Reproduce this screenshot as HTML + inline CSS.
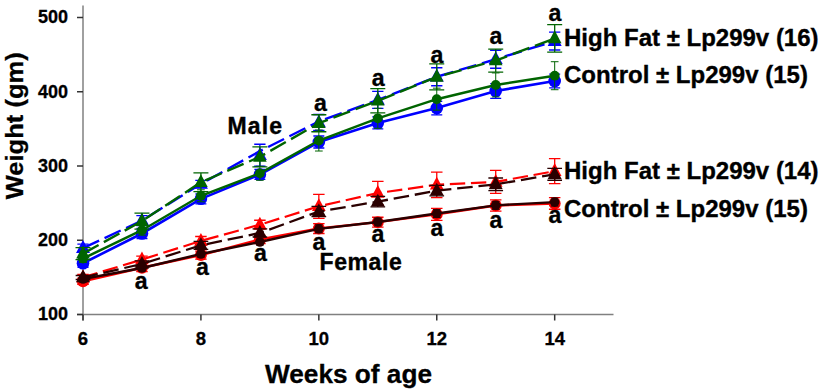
<!DOCTYPE html><html><head><meta charset="utf-8"><style>html,body{margin:0;padding:0;background:#fff;width:819px;height:391px;overflow:hidden}svg{display:block}text{font-family:"Liberation Sans",sans-serif;font-weight:bold;fill:#000}</style></head><body>
<svg width="819" height="391" viewBox="0 0 819 391">
<line x1="83" y1="5.5" x2="83" y2="320.5" stroke="#808080" stroke-width="1.5"/>
<line x1="77" y1="314.5" x2="613.5" y2="314.5" stroke="#808080" stroke-width="1.5"/>
<line x1="77" y1="314.50" x2="83" y2="314.50" stroke="#333" stroke-width="1.5"/>
<text x="68" y="320.40" font-size="18" text-anchor="end" stroke="#000" stroke-width="0.3">100</text>
<line x1="77" y1="240.25" x2="83" y2="240.25" stroke="#333" stroke-width="1.5"/>
<text x="68" y="246.15" font-size="18" text-anchor="end" stroke="#000" stroke-width="0.3">200</text>
<line x1="77" y1="166.00" x2="83" y2="166.00" stroke="#333" stroke-width="1.5"/>
<text x="68" y="171.90" font-size="18" text-anchor="end" stroke="#000" stroke-width="0.3">300</text>
<line x1="77" y1="91.75" x2="83" y2="91.75" stroke="#333" stroke-width="1.5"/>
<text x="68" y="97.65" font-size="18" text-anchor="end" stroke="#000" stroke-width="0.3">400</text>
<line x1="77" y1="17.50" x2="83" y2="17.50" stroke="#333" stroke-width="1.5"/>
<text x="68" y="23.40" font-size="18" text-anchor="end" stroke="#000" stroke-width="0.3">500</text>
<line x1="83.00" y1="314.5" x2="83.00" y2="320.5" stroke="#333" stroke-width="1.5"/>
<text x="83.00" y="345.2" font-size="18.5" text-anchor="middle" stroke="#000" stroke-width="0.3">6</text>
<line x1="200.92" y1="314.5" x2="200.92" y2="320.5" stroke="#333" stroke-width="1.5"/>
<text x="200.92" y="345.2" font-size="18.5" text-anchor="middle" stroke="#000" stroke-width="0.3">8</text>
<line x1="318.84" y1="314.5" x2="318.84" y2="320.5" stroke="#333" stroke-width="1.5"/>
<text x="318.84" y="345.2" font-size="18.5" text-anchor="middle" stroke="#000" stroke-width="0.3">10</text>
<line x1="436.76" y1="314.5" x2="436.76" y2="320.5" stroke="#333" stroke-width="1.5"/>
<text x="436.76" y="345.2" font-size="18.5" text-anchor="middle" stroke="#000" stroke-width="0.3">12</text>
<line x1="554.68" y1="314.5" x2="554.68" y2="320.5" stroke="#333" stroke-width="1.5"/>
<text x="554.68" y="345.2" font-size="18.5" text-anchor="middle" stroke="#000" stroke-width="0.3">14</text>
<text x="265" y="383" font-size="26" textLength="167" lengthAdjust="spacingAndGlyphs" stroke="#000" stroke-width="0.3">Weeks of age</text>
<text transform="translate(22.5,199.3) rotate(-90)" x="0" y="0" font-size="24.8" textLength="147" lengthAdjust="spacingAndGlyphs" stroke="#000" stroke-width="0.3">Weight (gm)</text>
<polyline points="83.00,281.24 141.96,267.72 200.92,255.10 259.88,239.51 318.84,228.59 377.80,222.13 436.76,214.34 495.72,205.50 554.68,203.42" fill="none" stroke="#ff0000" stroke-width="2.5"/>
<path d="M83.00 278.24V284.24M77.25 278.24H88.75M77.25 284.24H88.75" stroke="#ff0000" stroke-width="1.3" fill="none"/>
<path d="M141.96 263.72V271.72M136.21 263.72H147.71M136.21 271.72H147.71" stroke="#ff0000" stroke-width="1.3" fill="none"/>
<path d="M200.92 251.10V259.10M195.17 251.10H206.67M195.17 259.10H206.67" stroke="#ff0000" stroke-width="1.3" fill="none"/>
<path d="M259.88 235.51V243.51M254.13 235.51H265.63M254.13 243.51H265.63" stroke="#ff0000" stroke-width="1.3" fill="none"/>
<path d="M318.84 223.69V233.49M313.09 223.69H324.59M313.09 233.49H324.59" stroke="#ff0000" stroke-width="1.3" fill="none"/>
<path d="M377.80 217.23V227.03M372.05 217.23H383.55M372.05 227.03H383.55" stroke="#ff0000" stroke-width="1.3" fill="none"/>
<path d="M436.76 208.39V220.29M431.01 208.39H442.51M431.01 220.29H442.51" stroke="#ff0000" stroke-width="1.3" fill="none"/>
<path d="M495.72 199.90V211.10M489.97 199.90H501.47M489.97 211.10H501.47" stroke="#ff0000" stroke-width="1.3" fill="none"/>
<path d="M554.68 197.57V209.27M548.93 197.57H560.43M548.93 209.27H560.43" stroke="#ff0000" stroke-width="1.3" fill="none"/>
<circle cx="83.00" cy="281.24" r="6.0" fill="#ff0000"/>
<circle cx="141.96" cy="267.72" r="6.0" fill="#ff0000"/>
<circle cx="200.92" cy="255.10" r="6.0" fill="#ff0000"/>
<circle cx="259.88" cy="239.51" r="6.0" fill="#ff0000"/>
<circle cx="318.84" cy="228.59" r="6.0" fill="#ff0000"/>
<circle cx="377.80" cy="222.13" r="6.0" fill="#ff0000"/>
<circle cx="436.76" cy="214.34" r="6.0" fill="#ff0000"/>
<circle cx="495.72" cy="205.50" r="6.0" fill="#ff0000"/>
<circle cx="554.68" cy="203.42" r="6.0" fill="#ff0000"/>
<line x1="83.00" y1="277.38" x2="141.96" y2="259.56" stroke="#ff0000" stroke-width="2.2" stroke-dasharray="15.4 5.7" stroke-dashoffset="0.40"/>
<line x1="141.96" y1="259.56" x2="200.92" y2="240.92" stroke="#ff0000" stroke-width="2.2" stroke-dasharray="15.4 5.7" stroke-dashoffset="61.99"/>
<line x1="200.92" y1="240.92" x2="259.88" y2="224.66" stroke="#ff0000" stroke-width="2.2" stroke-dasharray="15.4 5.7" stroke-dashoffset="123.83"/>
<line x1="259.88" y1="224.66" x2="318.84" y2="206.32" stroke="#ff0000" stroke-width="2.2" stroke-dasharray="15.4 5.7" stroke-dashoffset="184.99"/>
<line x1="318.84" y1="206.32" x2="377.80" y2="193.03" stroke="#ff0000" stroke-width="2.2" stroke-dasharray="15.4 5.7" stroke-dashoffset="246.74"/>
<line x1="377.80" y1="193.03" x2="436.76" y2="184.79" stroke="#ff0000" stroke-width="2.2" stroke-dasharray="15.4 5.7" stroke-dashoffset="307.18"/>
<line x1="436.76" y1="184.79" x2="495.72" y2="181.89" stroke="#ff0000" stroke-width="2.2" stroke-dasharray="15.4 5.7" stroke-dashoffset="366.71"/>
<line x1="495.72" y1="181.89" x2="554.68" y2="171.12" stroke="#ff0000" stroke-width="2.2" stroke-dasharray="15.4 5.7" stroke-dashoffset="425.74"/>
<path d="M83.00 274.38V280.38M77.25 274.38H88.75M77.25 280.38H88.75" stroke="#ff0000" stroke-width="1.3" fill="none"/>
<path d="M141.96 256.16V262.95M136.21 256.16H147.71M136.21 262.95H147.71" stroke="#ff0000" stroke-width="1.3" fill="none"/>
<path d="M200.92 236.52V245.32M195.17 236.52H206.67M195.17 245.32H206.67" stroke="#ff0000" stroke-width="1.3" fill="none"/>
<path d="M259.88 220.26V229.06M254.13 220.26H265.63M254.13 229.06H265.63" stroke="#ff0000" stroke-width="1.3" fill="none"/>
<path d="M318.84 194.32V218.32M313.09 194.32H324.59M313.09 218.32H324.59" stroke="#ff0000" stroke-width="1.3" fill="none"/>
<path d="M377.80 181.33V204.73M372.05 181.33H383.55M372.05 204.73H383.55" stroke="#ff0000" stroke-width="1.3" fill="none"/>
<path d="M436.76 172.04V197.54M431.01 172.04H442.51M431.01 197.54H442.51" stroke="#ff0000" stroke-width="1.3" fill="none"/>
<path d="M495.72 170.39V193.39M489.97 170.39H501.47M489.97 193.39H501.47" stroke="#ff0000" stroke-width="1.3" fill="none"/>
<path d="M554.68 158.57V183.67M548.93 158.57H560.43M548.93 183.67H560.43" stroke="#ff0000" stroke-width="1.3" fill="none"/>
<path d="M83.00 269.38L89.80 282.18H76.20Z" fill="#ff0000"/>
<path d="M141.96 251.56L148.76 264.36H135.16Z" fill="#ff0000"/>
<path d="M200.92 232.92L207.72 245.72H194.12Z" fill="#ff0000"/>
<path d="M259.88 216.66L266.68 229.46H253.08Z" fill="#ff0000"/>
<path d="M318.84 198.32L325.64 211.12H312.04Z" fill="#ff0000"/>
<path d="M377.80 185.03L384.60 197.83H371.00Z" fill="#ff0000"/>
<path d="M436.76 176.79L443.56 189.59H429.96Z" fill="#ff0000"/>
<path d="M495.72 173.89L502.52 186.69H488.92Z" fill="#ff0000"/>
<path d="M554.68 163.12L561.48 175.92H547.88Z" fill="#ff0000"/>
<polyline points="83.00,279.01 141.96,268.02 200.92,253.99 259.88,242.03 318.84,228.82 377.80,221.98 436.76,213.52 495.72,205.35 554.68,202.09" fill="none" stroke="#2a0000" stroke-width="2.4"/>
<path d="M83.00 276.01V282.01M79.15 276.01H86.85M79.15 282.01H86.85" stroke="#2a0000" stroke-width="1.0" fill="none"/>
<path d="M141.96 265.02V271.02M138.11 265.02H145.81M138.11 271.02H145.81" stroke="#2a0000" stroke-width="1.0" fill="none"/>
<path d="M200.92 250.99V256.99M197.07 250.99H204.77M197.07 256.99H204.77" stroke="#2a0000" stroke-width="1.0" fill="none"/>
<path d="M259.88 239.03V245.03M256.03 239.03H263.73M256.03 245.03H263.73" stroke="#2a0000" stroke-width="1.0" fill="none"/>
<path d="M318.84 224.82V232.82M314.99 224.82H322.69M314.99 232.82H322.69" stroke="#2a0000" stroke-width="1.0" fill="none"/>
<path d="M377.80 217.98V225.98M373.95 217.98H381.65M373.95 225.98H381.65" stroke="#2a0000" stroke-width="1.0" fill="none"/>
<path d="M436.76 209.52V217.52M432.91 209.52H440.61M432.91 217.52H440.61" stroke="#2a0000" stroke-width="1.0" fill="none"/>
<path d="M495.72 201.35V209.35M491.87 201.35H499.57M491.87 209.35H499.57" stroke="#2a0000" stroke-width="1.0" fill="none"/>
<path d="M554.68 198.09V206.09M550.83 198.09H558.53M550.83 206.09H558.53" stroke="#2a0000" stroke-width="1.0" fill="none"/>
<circle cx="83.00" cy="279.01" r="4.8" fill="#2a0000"/>
<circle cx="141.96" cy="268.02" r="4.8" fill="#2a0000"/>
<circle cx="200.92" cy="253.99" r="4.8" fill="#2a0000"/>
<circle cx="259.88" cy="242.03" r="4.8" fill="#2a0000"/>
<circle cx="318.84" cy="228.82" r="4.8" fill="#2a0000"/>
<circle cx="377.80" cy="221.98" r="4.8" fill="#2a0000"/>
<circle cx="436.76" cy="213.52" r="4.8" fill="#2a0000"/>
<circle cx="495.72" cy="205.35" r="4.8" fill="#2a0000"/>
<circle cx="554.68" cy="202.09" r="4.8" fill="#2a0000"/>
<line x1="83.00" y1="277.52" x2="141.96" y2="263.94" stroke="#2a0000" stroke-width="2.3" stroke-dasharray="15.6 5.85" stroke-dashoffset="0.50"/>
<line x1="141.96" y1="263.94" x2="200.92" y2="245.30" stroke="#2a0000" stroke-width="2.3" stroke-dasharray="15.6 5.85" stroke-dashoffset="61.01"/>
<line x1="200.92" y1="245.30" x2="259.88" y2="232.97" stroke="#2a0000" stroke-width="2.3" stroke-dasharray="15.6 5.85" stroke-dashoffset="122.84"/>
<line x1="259.88" y1="232.97" x2="318.84" y2="211.52" stroke="#2a0000" stroke-width="2.3" stroke-dasharray="15.6 5.85" stroke-dashoffset="183.08"/>
<line x1="318.84" y1="211.52" x2="377.80" y2="201.64" stroke="#2a0000" stroke-width="2.3" stroke-dasharray="15.6 5.85" stroke-dashoffset="245.82"/>
<line x1="377.80" y1="201.64" x2="436.76" y2="190.65" stroke="#2a0000" stroke-width="2.3" stroke-dasharray="15.6 5.85" stroke-dashoffset="305.60"/>
<line x1="436.76" y1="190.65" x2="495.72" y2="184.34" stroke="#2a0000" stroke-width="2.3" stroke-dasharray="15.6 5.85" stroke-dashoffset="365.58"/>
<line x1="495.72" y1="184.34" x2="554.68" y2="174.32" stroke="#2a0000" stroke-width="2.3" stroke-dasharray="15.6 5.85" stroke-dashoffset="424.87"/>
<path d="M83.00 275.52V279.52M75.65 275.52H90.35M75.65 279.52H90.35" stroke="#2a0000" stroke-width="1.3" fill="none"/>
<path d="M141.96 260.94V266.94M134.61 260.94H149.31M134.61 266.94H149.31" stroke="#2a0000" stroke-width="1.3" fill="none"/>
<path d="M200.92 241.30V249.30M193.57 241.30H208.27M193.57 249.30H208.27" stroke="#2a0000" stroke-width="1.3" fill="none"/>
<path d="M259.88 228.97V236.97M252.53 228.97H267.23M252.53 236.97H267.23" stroke="#2a0000" stroke-width="1.3" fill="none"/>
<path d="M318.84 206.42V216.62M311.49 206.42H326.19M311.49 216.62H326.19" stroke="#2a0000" stroke-width="1.3" fill="none"/>
<path d="M377.80 196.44V206.84M370.45 196.44H385.15M370.45 206.84H385.15" stroke="#2a0000" stroke-width="1.3" fill="none"/>
<path d="M436.76 185.35V195.95M429.41 185.35H444.11M429.41 195.95H444.11" stroke="#2a0000" stroke-width="1.3" fill="none"/>
<path d="M495.72 177.99V190.69M488.37 177.99H503.07M488.37 190.69H503.07" stroke="#2a0000" stroke-width="1.3" fill="none"/>
<path d="M554.68 168.37V180.27M547.33 168.37H562.03M547.33 180.27H562.03" stroke="#2a0000" stroke-width="1.3" fill="none"/>
<path d="M83.00 269.52L90.00 282.32H76.00Z" fill="#2a0000"/>
<path d="M141.96 255.94L148.96 268.74H134.96Z" fill="#2a0000"/>
<path d="M200.92 237.30L207.92 250.10H193.92Z" fill="#2a0000"/>
<path d="M259.88 224.97L266.88 237.77H252.88Z" fill="#2a0000"/>
<path d="M318.84 203.52L325.84 216.32H311.84Z" fill="#2a0000"/>
<path d="M377.80 193.64L384.80 206.44H370.80Z" fill="#2a0000"/>
<path d="M436.76 182.65L443.76 195.45H429.76Z" fill="#2a0000"/>
<path d="M495.72 176.34L502.72 189.14H488.72Z" fill="#2a0000"/>
<path d="M554.68 166.32L561.68 179.12H547.68Z" fill="#2a0000"/>
<polyline points="83.00,263.27 141.96,233.49 200.92,198.82 259.88,174.46 318.84,142.02 377.80,122.93 436.76,108.08 495.72,91.01 554.68,80.98" fill="none" stroke="#0000ff" stroke-width="2.6"/>
<path d="M83.00 259.27V267.27M77.50 259.27H88.50M77.50 267.27H88.50" stroke="#0000ff" stroke-width="1.3" fill="none"/>
<path d="M141.96 228.49V238.49M136.46 228.49H147.46M136.46 238.49H147.46" stroke="#0000ff" stroke-width="1.3" fill="none"/>
<path d="M200.92 193.82V203.82M195.42 193.82H206.42M195.42 203.82H206.42" stroke="#0000ff" stroke-width="1.3" fill="none"/>
<path d="M259.88 169.46V179.46M254.38 169.46H265.38M254.38 179.46H265.38" stroke="#0000ff" stroke-width="1.3" fill="none"/>
<path d="M318.84 136.02V148.02M313.34 136.02H324.34M313.34 148.02H324.34" stroke="#0000ff" stroke-width="1.3" fill="none"/>
<path d="M377.80 116.93V128.93M372.30 116.93H383.30M372.30 128.93H383.30" stroke="#0000ff" stroke-width="1.3" fill="none"/>
<path d="M436.76 101.38V114.78M431.26 101.38H442.26M431.26 114.78H442.26" stroke="#0000ff" stroke-width="1.3" fill="none"/>
<path d="M495.72 83.61V98.41M490.22 83.61H501.22M490.22 98.41H501.22" stroke="#0000ff" stroke-width="1.3" fill="none"/>
<path d="M554.68 74.08V87.88M549.18 74.08H560.18M549.18 87.88H560.18" stroke="#0000ff" stroke-width="1.3" fill="none"/>
<circle cx="83.00" cy="263.27" r="6.3" fill="#0000ff"/>
<circle cx="141.96" cy="233.49" r="6.3" fill="#0000ff"/>
<circle cx="200.92" cy="198.82" r="6.3" fill="#0000ff"/>
<circle cx="259.88" cy="174.46" r="6.3" fill="#0000ff"/>
<circle cx="318.84" cy="142.02" r="6.3" fill="#0000ff"/>
<circle cx="377.80" cy="122.93" r="6.3" fill="#0000ff"/>
<circle cx="436.76" cy="108.08" r="6.3" fill="#0000ff"/>
<circle cx="495.72" cy="91.01" r="6.3" fill="#0000ff"/>
<circle cx="554.68" cy="80.98" r="6.3" fill="#0000ff"/>
<line x1="83.00" y1="248.12" x2="141.96" y2="220.57" stroke="#0000ff" stroke-width="2.4" stroke-dasharray="17.8 6" stroke-dashoffset="0.00"/>
<line x1="141.96" y1="220.57" x2="200.92" y2="183.89" stroke="#0000ff" stroke-width="2.4" stroke-dasharray="17.8 6" stroke-dashoffset="65.08"/>
<line x1="200.92" y1="183.89" x2="259.88" y2="151.15" stroke="#0000ff" stroke-width="2.4" stroke-dasharray="17.8 6" stroke-dashoffset="136.02"/>
<line x1="259.88" y1="151.15" x2="318.84" y2="121.45" stroke="#0000ff" stroke-width="2.4" stroke-dasharray="17.8 6" stroke-dashoffset="204.96"/>
<line x1="318.84" y1="121.45" x2="377.80" y2="99.92" stroke="#0000ff" stroke-width="2.4" stroke-dasharray="17.8 6" stroke-dashoffset="278.98"/>
<line x1="377.80" y1="99.92" x2="436.76" y2="76.75" stroke="#0000ff" stroke-width="2.4" stroke-dasharray="17.8 6" stroke-dashoffset="341.75"/>
<line x1="436.76" y1="76.75" x2="495.72" y2="59.23" stroke="#0000ff" stroke-width="2.4" stroke-dasharray="17.8 6" stroke-dashoffset="405.09"/>
<line x1="495.72" y1="59.23" x2="554.68" y2="41.11" stroke="#0000ff" stroke-width="2.4" stroke-dasharray="17.8 6" stroke-dashoffset="466.60"/>
<path d="M83.00 244.12V252.12M77.35 244.12H88.65M77.35 252.12H88.65" stroke="#0000ff" stroke-width="1.3" fill="none"/>
<path d="M141.96 215.57V225.57M136.31 215.57H147.61M136.31 225.57H147.61" stroke="#0000ff" stroke-width="1.3" fill="none"/>
<path d="M200.92 180.29V187.49M195.27 180.29H206.57M195.27 187.49H206.57" stroke="#0000ff" stroke-width="1.3" fill="none"/>
<path d="M259.88 144.23V166.23M254.23 144.23H265.53M254.23 166.23H265.53" stroke="#0000ff" stroke-width="1.3" fill="none"/>
<path d="M318.84 114.49V130.49M313.19 114.49H324.49M313.19 130.49H324.49" stroke="#0000ff" stroke-width="1.3" fill="none"/>
<path d="M377.80 91.42V108.42M372.15 91.42H383.45M372.15 108.42H383.45" stroke="#0000ff" stroke-width="1.3" fill="none"/>
<path d="M436.76 67.75V85.75M431.11 67.75H442.41M431.11 85.75H442.41" stroke="#0000ff" stroke-width="1.3" fill="none"/>
<path d="M495.72 50.23V68.23M490.07 50.23H501.37M490.07 68.23H501.37" stroke="#0000ff" stroke-width="1.3" fill="none"/>
<path d="M554.68 32.21V50.01M549.03 32.21H560.33M549.03 50.01H560.33" stroke="#0000ff" stroke-width="1.3" fill="none"/>
<path d="M83.00 240.12L90.00 252.92H76.00Z" fill="#0000ff"/>
<path d="M141.96 212.57L148.96 225.37H134.96Z" fill="#0000ff"/>
<path d="M200.92 175.89L207.92 188.69H193.92Z" fill="#0000ff"/>
<path d="M259.88 147.23L266.88 160.03H252.88Z" fill="#0000ff"/>
<path d="M318.84 114.49L325.84 127.29H311.84Z" fill="#0000ff"/>
<path d="M377.80 91.92L384.80 104.72H370.80Z" fill="#0000ff"/>
<path d="M436.76 68.75L443.76 81.55H429.76Z" fill="#0000ff"/>
<path d="M495.72 51.23L502.72 64.03H488.72Z" fill="#0000ff"/>
<path d="M554.68 33.11L561.68 45.91H547.68Z" fill="#0000ff"/>
<polyline points="83.00,258.52 141.96,230.23 200.92,195.77 259.88,173.28 318.84,140.53 377.80,118.33 436.76,99.17 495.72,84.92 554.68,75.71" fill="none" stroke="#006400" stroke-width="2.5"/>
<path d="M83.00 254.52V262.52M79.15 254.52H86.85M79.15 262.52H86.85" stroke="#006400" stroke-width="1.0" fill="none"/>
<path d="M141.96 225.23V235.23M138.11 225.23H145.81M138.11 235.23H145.81" stroke="#006400" stroke-width="1.0" fill="none"/>
<path d="M200.92 189.77V201.77M197.07 189.77H204.77M197.07 201.77H204.77" stroke="#006400" stroke-width="1.0" fill="none"/>
<path d="M259.88 166.28V180.28M256.03 166.28H263.73M256.03 180.28H263.73" stroke="#006400" stroke-width="1.0" fill="none"/>
<path d="M318.84 130.03V151.03M314.99 130.03H322.69M314.99 151.03H322.69" stroke="#006400" stroke-width="1.0" fill="none"/>
<path d="M377.80 108.33V128.33M373.95 108.33H381.65M373.95 128.33H381.65" stroke="#006400" stroke-width="1.0" fill="none"/>
<path d="M436.76 88.17V110.17M432.91 88.17H440.61M432.91 110.17H440.61" stroke="#006400" stroke-width="1.0" fill="none"/>
<path d="M495.72 72.92V96.92M491.87 72.92H499.57M491.87 96.92H499.57" stroke="#006400" stroke-width="1.0" fill="none"/>
<path d="M554.68 61.71V89.71M550.83 61.71H558.53M550.83 89.71H558.53" stroke="#006400" stroke-width="1.0" fill="none"/>
<circle cx="83.00" cy="258.52" r="4.9" fill="#006400"/>
<circle cx="141.96" cy="230.23" r="4.9" fill="#006400"/>
<circle cx="200.92" cy="195.77" r="4.9" fill="#006400"/>
<circle cx="259.88" cy="173.28" r="4.9" fill="#006400"/>
<circle cx="318.84" cy="140.53" r="4.9" fill="#006400"/>
<circle cx="377.80" cy="118.33" r="4.9" fill="#006400"/>
<circle cx="436.76" cy="99.17" r="4.9" fill="#006400"/>
<circle cx="495.72" cy="84.92" r="4.9" fill="#006400"/>
<circle cx="554.68" cy="75.71" r="4.9" fill="#006400"/>
<line x1="83.00" y1="253.62" x2="141.96" y2="221.09" stroke="#006400" stroke-width="2.4" stroke-dasharray="17.8 6" stroke-dashoffset="0.00"/>
<line x1="141.96" y1="221.09" x2="200.92" y2="182.19" stroke="#006400" stroke-width="2.4" stroke-dasharray="17.8 6" stroke-dashoffset="67.33"/>
<line x1="200.92" y1="182.19" x2="259.88" y2="156.87" stroke="#006400" stroke-width="2.4" stroke-dasharray="17.8 6" stroke-dashoffset="137.97"/>
<line x1="259.88" y1="156.87" x2="318.84" y2="123.23" stroke="#006400" stroke-width="2.4" stroke-dasharray="17.8 6" stroke-dashoffset="202.14"/>
<line x1="318.84" y1="123.23" x2="377.80" y2="100.81" stroke="#006400" stroke-width="2.4" stroke-dasharray="17.8 6" stroke-dashoffset="270.02"/>
<line x1="377.80" y1="100.81" x2="436.76" y2="76.90" stroke="#006400" stroke-width="2.4" stroke-dasharray="17.8 6" stroke-dashoffset="333.10"/>
<line x1="436.76" y1="76.90" x2="495.72" y2="60.56" stroke="#006400" stroke-width="2.4" stroke-dasharray="17.8 6" stroke-dashoffset="396.72"/>
<line x1="495.72" y1="60.56" x2="554.68" y2="38.36" stroke="#006400" stroke-width="2.4" stroke-dasharray="17.8 6" stroke-dashoffset="457.90"/>
<path d="M83.00 247.62V259.62M75.50 247.62H90.50M75.50 259.62H90.50" stroke="#006400" stroke-width="1.3" fill="none"/>
<path d="M141.96 213.09V229.09M134.46 213.09H149.46M134.46 229.09H149.46" stroke="#006400" stroke-width="1.3" fill="none"/>
<path d="M200.92 172.79V191.59M193.42 172.79H208.42M193.42 191.59H208.42" stroke="#006400" stroke-width="1.3" fill="none"/>
<path d="M259.88 146.87V166.87M252.38 146.87H267.38M252.38 166.87H267.38" stroke="#006400" stroke-width="1.3" fill="none"/>
<path d="M318.84 114.73V131.73M311.34 114.73H326.34M311.34 131.73H326.34" stroke="#006400" stroke-width="1.3" fill="none"/>
<path d="M377.80 88.71V112.91M370.30 88.71H385.30M370.30 112.91H385.30" stroke="#006400" stroke-width="1.3" fill="none"/>
<path d="M436.76 63.90V89.90M429.26 63.90H444.26M429.26 89.90H444.26" stroke="#006400" stroke-width="1.3" fill="none"/>
<path d="M495.72 49.06V72.06M488.22 49.06H503.22M488.22 72.06H503.22" stroke="#006400" stroke-width="1.3" fill="none"/>
<path d="M554.68 24.56V52.16M547.18 24.56H562.18M547.18 52.16H562.18" stroke="#006400" stroke-width="1.3" fill="none"/>
<path d="M83.00 245.62L89.80 258.42H76.20Z" fill="#006400"/>
<path d="M141.96 213.09L148.76 225.89H135.16Z" fill="#006400"/>
<path d="M200.92 174.19L207.72 186.99H194.12Z" fill="#006400"/>
<path d="M259.88 148.87L266.68 161.67H253.08Z" fill="#006400"/>
<path d="M318.84 115.23L325.64 128.03H312.04Z" fill="#006400"/>
<path d="M377.80 92.81L384.60 105.61H371.00Z" fill="#006400"/>
<path d="M436.76 68.90L443.56 81.70H429.96Z" fill="#006400"/>
<path d="M495.72 52.56L502.52 65.36H488.92Z" fill="#006400"/>
<path d="M554.68 30.36L561.48 43.16H547.88Z" fill="#006400"/>
<text x="564" y="45.6" font-size="24" stroke="#000" stroke-width="0.35">High Fat ± Lp299v (16)</text>
<text x="564" y="83.3" font-size="24" stroke="#000" stroke-width="0.35">Control ± Lp299v (15)</text>
<text x="564" y="178.6" font-size="24" stroke="#000" stroke-width="0.35">High Fat ± Lp299v (14)</text>
<text x="564" y="216.5" font-size="24" stroke="#000" stroke-width="0.35">Control ± Lp299v (15)</text>
<text x="227.5" y="134" font-size="23" letter-spacing="1.1" stroke="#000" stroke-width="0.4">Male</text>
<text x="319.5" y="270" font-size="23" letter-spacing="0.6" stroke="#000" stroke-width="0.4">Female</text>
<text x="141.30" y="289" font-size="23.2" text-anchor="middle" stroke="#000" stroke-width="0.3">a</text>
<text x="202.40" y="274.5" font-size="23.2" text-anchor="middle" stroke="#000" stroke-width="0.3">a</text>
<text x="260.50" y="260.5" font-size="23.2" text-anchor="middle" stroke="#000" stroke-width="0.3">a</text>
<text x="318.90" y="249.7" font-size="23.2" text-anchor="middle" stroke="#000" stroke-width="0.3">a</text>
<text x="378.00" y="241.9" font-size="23.2" text-anchor="middle" stroke="#000" stroke-width="0.3">a</text>
<text x="436.90" y="236" font-size="23.2" text-anchor="middle" stroke="#000" stroke-width="0.3">a</text>
<text x="496.00" y="228" font-size="23.2" text-anchor="middle" stroke="#000" stroke-width="0.3">a</text>
<text x="555.00" y="223.1" font-size="23.2" text-anchor="middle" stroke="#000" stroke-width="0.3">a</text>
<text x="320.50" y="111" font-size="23.2" text-anchor="middle" stroke="#000" stroke-width="0.3">a</text>
<text x="378.20" y="86" font-size="23.2" text-anchor="middle" stroke="#000" stroke-width="0.3">a</text>
<text x="437.00" y="62.9" font-size="23.2" text-anchor="middle" stroke="#000" stroke-width="0.3">a</text>
<text x="496.00" y="44.3" font-size="23.2" text-anchor="middle" stroke="#000" stroke-width="0.3">a</text>
<text x="554.90" y="21.2" font-size="23.2" text-anchor="middle" stroke="#000" stroke-width="0.3">a</text>
</svg></body></html>
